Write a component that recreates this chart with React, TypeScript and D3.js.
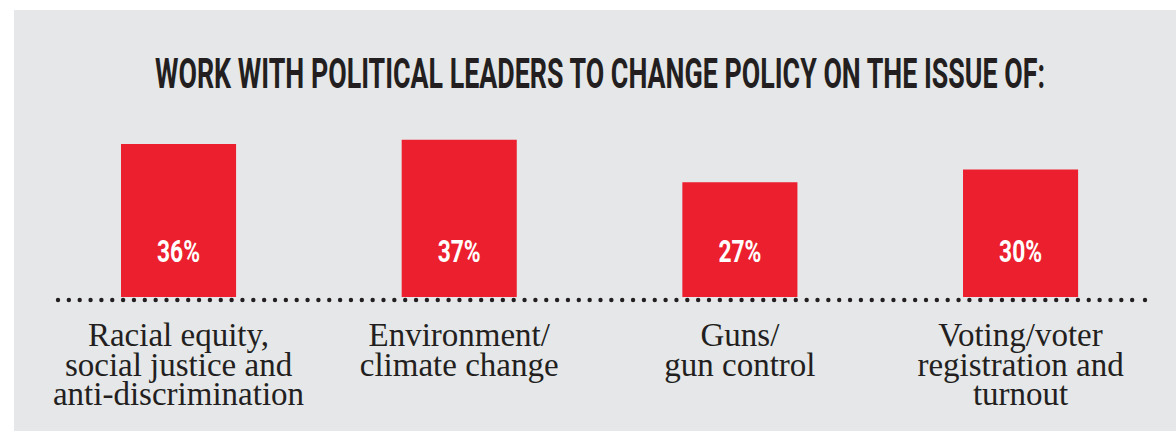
import React from "react";
import * as d3 from "d3";

const categories: string[] = ["racial", "environment", "guns", "voting"];
const values: number[] = [36, 37, 27, 30];
const valueLabels: string[] = ["36%", "37%", "27%", "30%"];
const categoryLines: string[][] = [
  ["Racial equity,", "social justice and", "anti-discrimination"],
  ["Environment/", "climate change"],
  ["Guns/", "gun control"],
  ["Voting/voter", "registration and", "turnout"],
];
const title = "WORK WITH POLITICAL LEADERS TO CHANGE POLICY ON THE ISSUE OF:";

const W = 1176;
const H = 432;
const RED = "#ec1f2e";
const DARK = "#231f20";
const BG = "#e6e7e9";
const CONDENSED = "'Liberation Sans Narrow', Roboto, 'DejaVu Sans Condensed', sans-serif";
const SERIF = "'Liberation Serif', 'DejaVu Serif', serif";

export default function App() {
  const baseline = 297;
  const x = d3
    .scaleBand<string>()
    .domain(categories)
    .range([38.2, 1160.9])
    .paddingInner(0.59)
    .paddingOuter(0.295);
  const y = d3.scaleLinear().domain([0, 40]).range([baseline, baseline - 170]);

  const dotStart = 58;
  const dotEnd = 1140;
  const dotStep = 10.85;
  const dots = d3.range(dotStart, dotEnd + 0.1, dotStep);

  return (
    <svg
      width={W}
      height={H}
      style={{ position: "absolute", left: 0, top: 0, display: "block" }}
    >
      <rect x={0} y={0} width={W} height={H} fill="#ffffff" />
      <rect x={14} y={10} width={W - 14} height={421} fill={BG} />
      <text
        x={155}
        y={88}
        fontFamily={CONDENSED}
        fontWeight="bold"
        fontSize={42}
        fill={DARK}
        textLength={890}
        lengthAdjust="spacingAndGlyphs"
      >
        {title}
      </text>
      {categories.map((c, i) => (
        <rect
          key={c}
          x={x(c)}
          y={y(values[i])}
          width={x.bandwidth()}
          height={baseline - y(values[i])}
          fill={RED}
        />
      ))}
      {categories.map((c, i) => (
        <text
          key={c + "-v"}
          x={(x(c) as number) + x.bandwidth() / 2}
          y={262}
          textAnchor="middle"
          fontFamily={CONDENSED}
          fontWeight="bold"
          fontSize={32}
          fill="#ffffff"
          textLength={43}
          lengthAdjust="spacingAndGlyphs"
        >
          {valueLabels[i]}
        </text>
      ))}
      {dots.map((d, i) => (
        <circle key={i} cx={d} cy={300} r={2.2} fill={DARK} />
      ))}
      <circle cx={1145} cy={300} r={2.2} fill={DARK} />
      {categories.map((c, i) => (
        <text
          key={c + "-l"}
          textAnchor="middle"
          fontFamily={SERIF}
          fontSize={33}
          fill={DARK}
        >
          {categoryLines[i].map((line, j) => (
            <tspan
              key={j}
              x={(x(c) as number) + x.bandwidth() / 2}
              y={346 + j * 29.5}
            >
              {line}
            </tspan>
          ))}
        </text>
      ))}
    </svg>
  );
}
